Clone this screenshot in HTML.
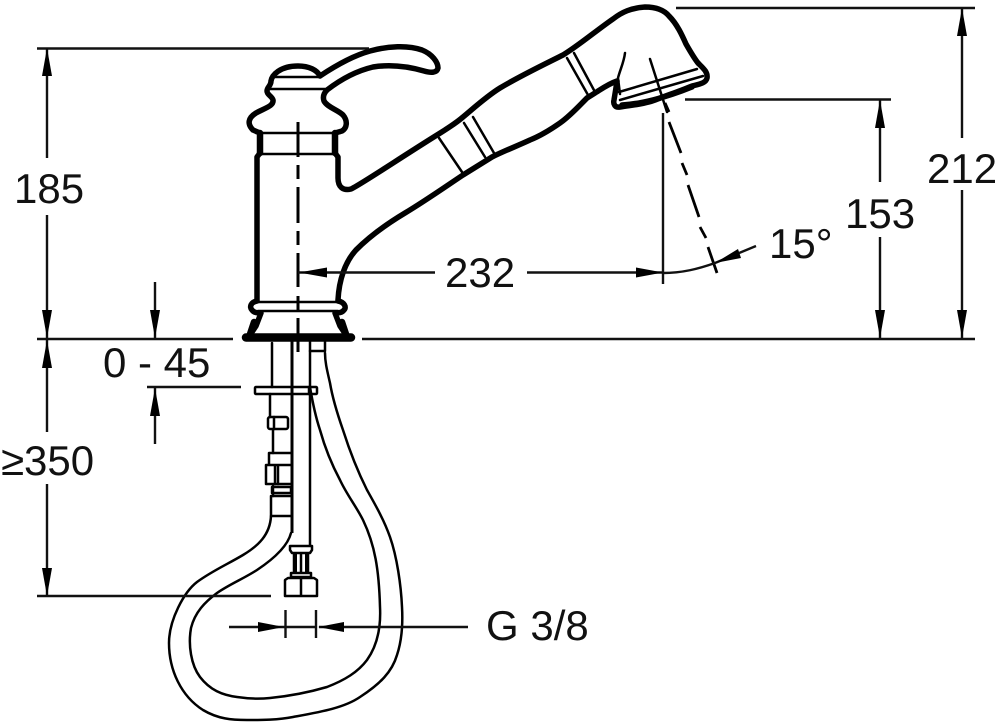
<!DOCTYPE html>
<html>
<head>
<meta charset="utf-8">
<style>
html,body{margin:0;padding:0;background:#fff;width:1000px;height:724px;overflow:hidden}
svg{display:block;filter:blur(.35px)}
text{font-family:"Liberation Sans",sans-serif;font-size:42px;fill:#111}
</style>
</head>
<body>
<svg width="1000" height="724" viewBox="0 0 1000 724" xmlns="http://www.w3.org/2000/svg">
<g fill="none" stroke="#000" stroke-linecap="round" stroke-linejoin="round">
  <!-- body outline -->
  <g stroke-width="5.5">
    <path d="M257 300V157L260 153V133L253 130C247 124 248 118 256 113C265 108 274 106 273 100C272 96 267 95 267 91C267 87 271 86 271 81C272 75 280 66 298 66C309 66 317 70 320 76C335 66 352 56 370 51C388 46 408 45 422 50C432 54 438 62 438 68C437 73 431 73 424 71C410 67 392 64 373 67C356 71 340 80 327 90C323 94 323 98 324 101C327 107 338 110 343 115C348 121 347 128 342 131L335 133V153L338 157V178C338 187 343 191 351 189C360 185 400 158 437 135C445 130 455 124 463 117C475 107 487 96 500 88C520 76 543 65 563 55C578 46 597 30 613 19C622 12 631 8 645 7C656 7 664 10 669 16C677 24 682 35 686 44C690 51 694 58 698 63C703 68 708 72 707 78C706 83 700 84 692 86C680 91 668 95 655 100C645 104 632 105 620 107C615 108 613 104 614 100C615 94 616 88 617 81C608 84 600 90 595 93L587 98C578 107 570 116 560 123C550 130 540 136 530 140C517 146 504 151 492 157L463 175C445 187 425 201 405 213C385 225 368 238 356 250C345 262 339 280 338 300"/>
    <path d="M257 301C251 302 249 307 252 310C254 313 258 313 261 313L256 326L250 335"/>
    <path d="M338 301C344 302 347 307 344 310C342 313 338 313 335 313L340 326L346 335"/>
  </g>
  <path d="M246 337.500H351" stroke-width="8.500"/>
  <path d="M250 334L254 322M346 334L342 322" stroke-width="6.500"/>
  <path d="M260 133V153M335 133V153" stroke-width="6.500"/>
  <g stroke-width="2.500">
    <path d="M273 77H320M269 89H325"/>
    <path d="M256 133H340M258 154H337"/>
    <path d="M255 302H341M258 311H338"/>
    <!-- bands -->
    <path d="M567 58L588 95M574 53L595 92"/>
    <path d="M464 123L485 157M473 117L494 153"/>
    <path d="M439 138L462 172"/>
    <!-- head -->
    <path d="M625 53C624 62 620 70 618 78L620 94"/>
    <path d="M619 92L697 69M620 100L703 76"/>
    <path d="M650 59L667 112"/>
  </g>
  <path d="M622 105C640 104 665 98 692 87" stroke-width="5.500"/>
  <!-- centre line -->
  <path d="M298 122V157M298 165V179M298 187V223M298 231V245M298 253V287M298 296V310M298 318V352" stroke-width="3" stroke-linecap="butt"/>
  <!-- 15 deg dashes -->
  <path d="M665 103L669 112M669 122L681 153M682 163L687 175M688 185L699 217M700 227L706 238M708 247L717 273" stroke-width="2.800" stroke-linecap="butt"/>
  <!-- under-deck pipes -->
  <g stroke-width="2.500">
    <path d="M272 343V387M270 394V417M273 430V453M273 486V496"/>
    <path d="M310 340V545"/>
    <path d="M310 351H325M325 342V351"/>
    <rect x="255" y="387" width="62" height="7" rx="1"/>
    <path d="M309 387V394"/>
    <rect x="268" y="417" width="20" height="12" rx="2"/>
    <path d="M274 417V429"/>
    <path d="M269 465V453H291M266 484V465H291M266 484H291"/>
    <path d="M272 487H291V493H272ZM271 516V496H291M271 516H291"/>
    <path d="M275 466V484M278 466V484"/>
    <!-- hoses -->
    <path d="M271 516C270 535 258 546 243 555C228 564 212 571 197 582C184 592 169 620 169 643C169 670 181 696 203 710C218 719 232 720 247 720C262 720 278 720 293 717C320 712 344 708 360 697C380 684 392 672 397 655C402 640 403 625 402 607C401 585 397 557 390 537C384 520 376 506 367 490C357 470 350 452 343 430C336 410 332 395 330 383C327 370 325 362 325 353"/>
    <path d="M291 533C288 545 275 558 257 570C243 579 230 584 217 593C205 602 195 612 191 628C188 645 191 665 200 677C210 690 222 695 237 697C250 699 260 699 270 698C290 696 310 692 327 687C345 680 358 672 367 660C377 646 381 627 380 607C379 570 375 545 363 520C356 506 347 495 340 480C332 465 325 448 320 430C316 418 313 405 310 387"/>
    <!-- fitting -->
    <path d="M290 546H312V550L310 553H292L290 550ZM291 573H311V577H291ZM294 553V573M301 553V573M308 553V573"/>
    <path d="M296 553V573M306 553V573" stroke-width="2"/>
    <path d="M285 580L288 578H314L317 580V596H285ZM301 578V596"/>
  </g>
  <path d="M292 340V533" stroke-width="3" stroke-linecap="butt"/>
  <!-- dimension lines -->
  <g stroke-width="2.400" stroke="#111" stroke-linecap="butt">
    <path d="M37 48.500H369M37 339H233M362 339H975M37 596H271M147 387H241"/>
    <path d="M676 8H975M685 99.500H891"/>
    <path d="M47 49V158M47 215V338M47 339V432M47 484V596"/>
    <path d="M962 8V138M962 190V338M880 100V182M880 237V338"/>
    <path d="M155 282V338M155 388V444"/>
    <path d="M298 272.500H435M527 272.500H663"/>
    <path d="M663 113V284"/>
    <path d="M229 627H316M319 627H468"/>
    <path d="M285.500 610V638M316 610V638"/>
    <path d="M663 273C682 273 698 269 715 263L756 246"/>
  </g>
  <!-- arrowheads -->
  <g fill="#000" stroke="none">
    <path d="M47 48L42 76H52Z"/>
    <path d="M47 338L42 310H52Z"/>
    <path d="M47 340L42 368H52Z"/>
    <path d="M47 596L42 568H52Z"/>
    <path d="M962 8L957 36H967Z"/>
    <path d="M962 338L957 310H967Z"/>
    <path d="M880 100L875 128H885Z"/>
    <path d="M880 338L875 310H885Z"/>
    <path d="M155 338L150 310H160Z"/>
    <path d="M155 388L150 416H160Z"/>
    <path d="M299 272.500L327 267.500V277.500Z"/>
    <path d="M663 272.500L636 267.500V277.500Z"/>
    <path d="M284 627L258 622V632Z"/>
    <path d="M318 627L344 622V632Z"/>
    <path d="M715 263L738 249L741 258Z"/>
  </g>
</g>
<text x="14" y="203">185</text>
<text x="103" y="377">0 - 45</text>
<text x="1" y="475">≥350</text>
<text x="445" y="287">232</text>
<text x="845" y="228">153</text>
<text x="927" y="183">212</text>
<text x="769" y="258">15°</text>
<text x="486" y="640">G 3/8</text>
</svg>
</body>
</html>
